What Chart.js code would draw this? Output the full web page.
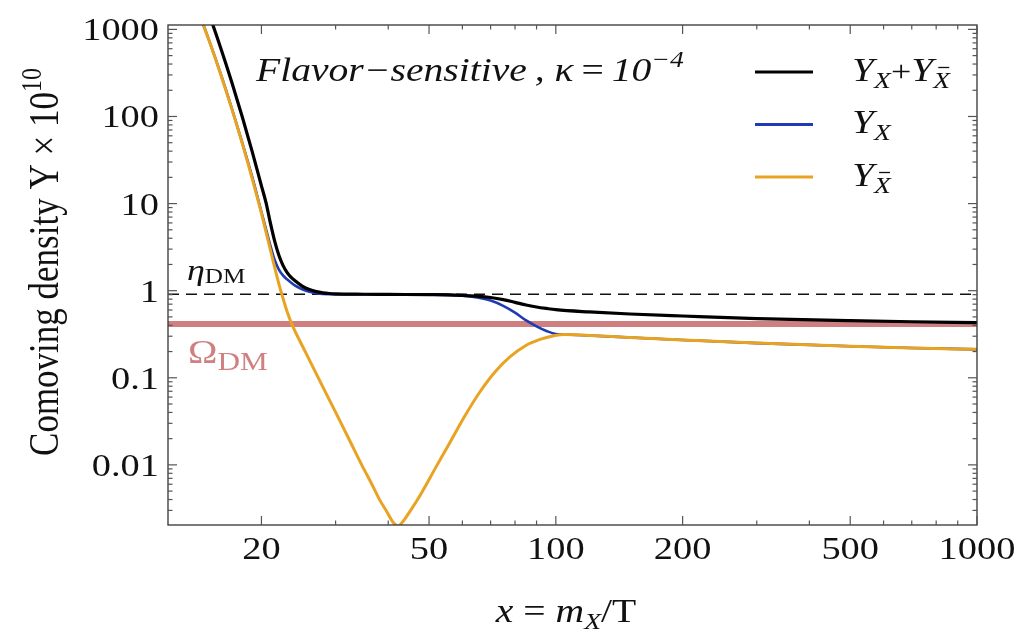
<!DOCTYPE html>
<html>
<head>
<meta charset="utf-8">
<script src="https://cdn.jsdelivr.net/npm/chart.js@4.4.1/dist/chart.umd.min.js"></script>
<style>
  body { margin: 0; background: #fff; }
  canvas { display: block; }
</style>
</head>
<body>
<canvas id="grafico" width="1028" height="634"></canvas>
<script>
// valores (x = m_X/T, Y x 10^10)
const totalX = [14, 15, 16, 17, 18, 19, 20, 20.5, 21, 21.5, 22, 22.5, 23, 23.5, 24, 25, 26, 27, 28, 29, 30, 35, 40, 50, 56, 60, 65, 70, 75, 80, 85, 90, 95, 100, 120, 150, 200, 300, 500, 700, 1000];
const totalY = [3730, 1520, 617, 249, 100, 40, 16, 10.3, 6.0, 3.7, 2.55, 1.95, 1.62, 1.43, 1.31, 1.13, 1.03, 0.975, 0.945, 0.928, 0.92, 0.91, 0.906, 0.9, 0.895, 0.885, 0.865, 0.835, 0.79, 0.735, 0.685, 0.65, 0.625, 0.605, 0.57, 0.54, 0.512, 0.478, 0.452, 0.44, 0.43];

const yxX = [14, 15, 16, 17, 18, 19, 20, 20.5, 21, 21.5, 22, 22.5, 23, 23.5, 24, 25, 26, 27, 28, 30, 40, 50, 56, 60, 65, 70, 75, 80, 85, 90, 95, 100, 105.2, 120, 150, 200, 300, 500, 700, 1000];
const yxY = [1866, 762, 310, 125, 50.5, 20.5, 8.0, 5.1, 3.3, 2.25, 1.75, 1.5, 1.35, 1.24, 1.15, 1.04, 0.97, 0.935, 0.918, 0.906, 0.902, 0.898, 0.89, 0.875, 0.835, 0.77, 0.67, 0.56, 0.455, 0.39, 0.345, 0.318, 0.314, 0.306, 0.29, 0.272, 0.25, 0.23, 0.22, 0.212];

const yxbarX = [14, 15, 16, 17, 18, 19, 20, 21, 21.5, 22, 22.5, 23, 23.6, 25.34, 27.5, 29.87, 32.42, 34.6, 36.6, 38.2, 39.7, 41.0, 42.2, 43.3, 45.0, 47.6, 52.2, 56.1, 60.8, 66.0, 71.7, 77.8, 84.5, 91.7, 99.5, 105.2, 120, 150, 200, 300, 500, 700, 1000];
const yxbarY = [1864, 758, 306, 123, 49.5, 19.6, 7.7, 2.95, 1.85, 1.2, 0.82, 0.58, 0.416, 0.205, 0.0926, 0.0419, 0.0189, 0.01, 0.00596, 0.00394, 0.0029, 0.00222, 0.00198, 0.00222, 0.0029, 0.00445, 0.00987, 0.0182, 0.0364, 0.0687, 0.1166, 0.1734, 0.2317, 0.2754, 0.306, 0.314, 0.306, 0.29, 0.272, 0.25, 0.23, 0.22, 0.212];

const etaDM = 0.91;
const omegaDM = 0.415;

const xTicks = [20, 50, 100, 200, 500, 1000];
const xMinorTicks = [30, 40, 60, 70, 80, 90, 300, 400, 600, 700, 800, 900];
const yTicks = [0.01, 0.1, 1, 10, 100, 1000];
const xTickLabels = ['20', '50', '100', '200', '500', '1000'];
const yTickLabels = ['0.01', '0.1', '1', '10', '100', '1000'];

const X_MIN = 12, X_MAX = 1000, Y_MIN = 0.00204, Y_MAX = 1123;

const SERIF = '"Liberation Serif", "DejaVu Serif", serif';
const SX = 1.2; // a figura original esta esticada na horizontal

const pontos = (xs, ys) => xs.map((x, i) => ({ x: x, y: ys[i] }));

// desenha texto em pedacos (subscrito, sobrescrito, barra)
function desenhaTexto(ctx, x, y, partes, align, sx) {
  let total = 0;
  partes.forEach(p => {
    ctx.font = p.font;
    p.w = ctx.measureText(p.t).width * sx;
    total += p.w;
  });
  let cx = x;
  if (align === 'center') cx = x - total / 2;
  if (align === 'right') cx = x - total;
  partes.forEach(p => {
    ctx.save();
    ctx.translate(cx, y + (p.dy || 0));
    ctx.scale(sx, 1);
    ctx.font = p.font;
    ctx.fillStyle = p.color || '#111';
    ctx.textAlign = 'left';
    ctx.textBaseline = 'alphabetic';
    ctx.fillText(p.t, 0, 0);
    if (p.bar) {
      const w = p.w / sx;
      ctx.strokeStyle = p.color || '#111';
      ctx.lineWidth = 1.3;
      ctx.beginPath();
      ctx.moveTo(w * 0.3, -p.bar);
      ctx.lineTo(w * 0.95, -p.bar);
      ctx.stroke();
    }
    ctx.restore();
    cx += p.w;
  });
}

const molduraPlugin = {
  id: 'moldura',
  afterDatasetsDraw(chart) {
    const ctx = chart.ctx;
    const a = chart.chartArea;
    const xs = chart.scales.x, ys = chart.scales.y;
    ctx.save();
    ctx.strokeStyle = '#333';
    ctx.lineWidth = 1.3;
    ctx.strokeRect(a.left, a.top, a.right - a.left, a.bottom - a.top);

    // marcas para dentro, nos quatro lados
    ctx.strokeStyle = '#555';
    ctx.lineWidth = 1.2;
    const marca = (x1, y1, x2, y2) => { ctx.beginPath(); ctx.moveTo(x1, y1); ctx.lineTo(x2, y2); ctx.stroke(); };
    xTicks.forEach(v => {
      const p = xs.getPixelForValue(v);
      marca(p, a.bottom, p, a.bottom - 9);
      marca(p, a.top, p, a.top + 9);
    });
    xMinorTicks.forEach(v => {
      const p = xs.getPixelForValue(v);
      marca(p, a.bottom, p, a.bottom - 4.5);
      marca(p, a.top, p, a.top + 4.5);
    });
    for (let d = -3; d <= 3; d++) {
      for (let k = 1; k <= 9; k++) {
        const v = k * Math.pow(10, d);
        if (v < Y_MIN || v > Y_MAX) continue;
        const p = ys.getPixelForValue(v);
        const len = k === 1 ? 9 : 4.5;
        marca(a.left, p, a.left + len, p);
        marca(a.right, p, a.right - len, p);
      }
    }
    ctx.restore();

    // rotulos dos eixos
    const fTick = '32px ' + SERIF;
    xTicks.forEach((v, i) => {
      desenhaTexto(ctx, xs.getPixelForValue(v), 559, [{ t: xTickLabels[i], font: fTick }], 'center', SX);
    });
    yTicks.forEach((v, i) => {
      desenhaTexto(ctx, 159, ys.getPixelForValue(v) + 11, [{ t: yTickLabels[i], font: fTick }], 'right', SX);
    });

    // titulo do eixo x
    desenhaTexto(ctx, 566, 622, [
      { t: 'x', font: 'italic 33px ' + SERIF },
      { t: ' = ', font: '33px ' + SERIF },
      { t: 'm', font: 'italic 33px ' + SERIF },
      { t: 'X', font: 'italic 23px ' + SERIF, dy: 7 },
      { t: '/T', font: '33px ' + SERIF }
    ], 'center', SX);

    // titulo do eixo y (girado)
    ctx.save();
    ctx.translate(58, 262);
    ctx.scale(SX, 1);
    ctx.rotate(-Math.PI / 2);
    desenhaTexto(ctx, 0, 0, [
      { t: 'Comoving density Y \u00d7 10', font: '35px ' + SERIF },
      { t: '10', font: '24px ' + SERIF, dy: -14 }
    ], 'center', 1);
    ctx.restore();

    // anotacao do painel
    desenhaTexto(ctx, 256, 81, [
      { t: 'Flavor\u2212sensitive\u2009, \u03ba', font: 'italic 33px ' + SERIF },
      { t: '\u2009=\u2009', font: '33px ' + SERIF },
      { t: '10', font: 'italic 33px ' + SERIF },
      { t: '\u22124', font: 'italic 23px ' + SERIF, dy: -14 }
    ], 'left', SX);

    // eta_DM e Omega_DM
    desenhaTexto(ctx, 187, 280, [
      { t: '\u03b7', font: 'italic 30px ' + SERIF },
      { t: 'DM', font: '21px ' + SERIF, dy: 3 }
    ], 'left', SX);
    desenhaTexto(ctx, 188, 363, [
      { t: '\u03a9', font: '33px ' + SERIF, color: '#d08080' },
      { t: 'DM', font: '26px ' + SERIF, dy: 7, color: '#d08080' }
    ], 'left', SX);

    // legenda
    const leg = [
      { cor: '#000000', y: 72, txt: [
        { t: 'Y', font: 'italic 33px ' + SERIF },
        { t: 'X', font: 'italic 23px ' + SERIF, dy: 7 },
        { t: '+', font: '30px ' + SERIF },
        { t: 'Y', font: 'italic 33px ' + SERIF },
        { t: 'X', font: 'italic 23px ' + SERIF, dy: 7, bar: 20 }
      ] },
      { cor: '#1f3bb3', y: 124.5, txt: [
        { t: 'Y', font: 'italic 33px ' + SERIF },
        { t: 'X', font: 'italic 23px ' + SERIF, dy: 7 }
      ] },
      { cor: '#e9a323', y: 177, txt: [
        { t: 'Y', font: 'italic 33px ' + SERIF },
        { t: 'X', font: 'italic 23px ' + SERIF, dy: 7, bar: 20 }
      ] }
    ];
    leg.forEach(l => {
      ctx.save();
      ctx.strokeStyle = l.cor;
      ctx.lineWidth = 3;
      ctx.beginPath();
      ctx.moveTo(755, l.y);
      ctx.lineTo(813, l.y);
      ctx.stroke();
      ctx.restore();
      desenhaTexto(ctx, 852, l.y + 8.5, l.txt, 'left', SX);
    });
  }
};

const ctx = document.getElementById('grafico').getContext('2d');
new Chart(ctx, {
  type: 'line',
  data: {
    datasets: [
      {
        label: 'Y_Xbar',
        data: pontos(yxbarX, yxbarY),
        borderColor: '#e9a323',
        borderWidth: 3,
        order: 0
      },
      {
        label: 'Y_X + Y_Xbar',
        data: pontos(totalX, totalY),
        borderColor: '#000000',
        borderWidth: 3.2,
        order: 1
      },
      {
        label: 'Y_X',
        data: pontos(yxX, yxY),
        borderColor: '#1f3bb3',
        borderWidth: 2.6,
        order: 2
      },
      {
        label: 'eta_DM',
        data: [{ x: X_MIN, y: etaDM }, { x: X_MAX, y: etaDM }],
        borderColor: '#111',
        borderWidth: 1.3,
        borderDash: [11, 7],
        order: 3
      },
      {
        label: 'Omega_DM',
        data: [{ x: X_MIN, y: omegaDM }, { x: X_MAX, y: omegaDM }],
        borderColor: '#cf7f7f',
        borderWidth: 6,
        order: 4
      }
    ]
  },
  options: {
    responsive: false,
    animation: false,
    devicePixelRatio: 1,
    clip: 0,
    layout: { padding: { top: 25, right: 51, left: 0, bottom: 0 } },
    elements: {
      point: { radius: 0 },
      line: { cubicInterpolationMode: 'monotone', fill: false }
    },
    plugins: {
      legend: { display: false },
      tooltip: { enabled: false }
    },
    scales: {
      x: {
        type: 'logarithmic',
        min: X_MIN,
        max: X_MAX,
        grid: { display: false },
        border: { display: false },
        ticks: { display: false },
        afterBuildTicks: s => { s.ticks = xTicks.map(v => ({ value: v })); },
        afterFit: s => { s.height = 109; }
      },
      y: {
        type: 'logarithmic',
        min: Y_MIN,
        max: Y_MAX,
        grid: { display: false },
        border: { display: false },
        ticks: { display: false },
        afterBuildTicks: s => { s.ticks = yTicks.map(v => ({ value: v })); },
        afterFit: s => { s.width = 168; }
      }
    }
  },
  plugins: [molduraPlugin]
});
</script>
</body>
</html>
